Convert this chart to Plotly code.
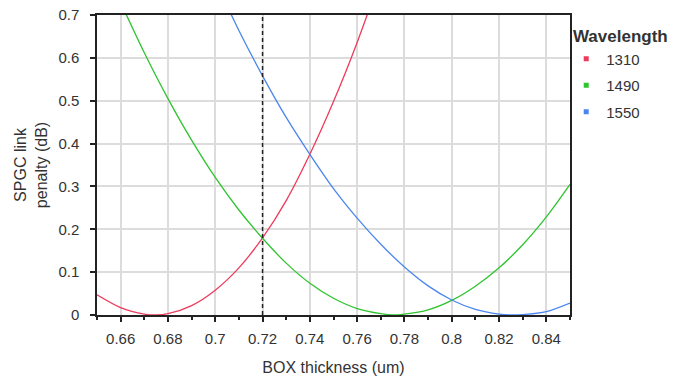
import plotly.graph_objects as go

# ---- data ----
series_names = ["1310", "1490", "1550"]
series_colors = ["#EE3A5C", "#2EC42E", "#4A86EE"]

x_1310 = [0.65, 0.66, 0.67, 0.675, 0.68, 0.69, 0.70, 0.71, 0.72, 0.73, 0.74, 0.75, 0.76, 0.77]
y_1310 = [0.047, 0.017, 0.002, 0.0, 0.003, 0.022, 0.058, 0.110, 0.180, 0.267, 0.375, 0.498, 0.636, 0.790]

x_1490 = [0.66, 0.67, 0.68, 0.69, 0.70, 0.71, 0.72, 0.73, 0.74, 0.75, 0.76, 0.77, 0.775,
          0.78, 0.79, 0.80, 0.81, 0.82, 0.83, 0.84, 0.85]
y_1490 = [0.729, 0.612, 0.505, 0.408, 0.321, 0.245, 0.179, 0.121, 0.074, 0.039, 0.015, 0.003, 0.0,
          0.002, 0.012, 0.034, 0.067, 0.110, 0.164, 0.229, 0.305]

x_1550 = [0.70, 0.71, 0.72, 0.73, 0.74, 0.75, 0.76, 0.77, 0.78, 0.79, 0.80, 0.81, 0.82,
          0.825, 0.83, 0.84, 0.85]
y_1550 = [0.780, 0.664, 0.558, 0.461, 0.375, 0.295, 0.226, 0.165, 0.112, 0.068, 0.035, 0.013, 0.002,
          0.0, 0.001, 0.008, 0.028]

marker_x = 0.72  # dashed reference line (BOX thickness)

x_range = [0.65, 0.85]
y_range = [0, 0.7]
x_tick_step = 0.02
y_tick_step = 0.1

xs = [x_1310, x_1490, x_1550]
ys = [y_1310, y_1490, y_1550]

fig = go.Figure()
for name, color, xv, yv in zip(series_names, series_colors, xs, ys):
    fig.add_trace(go.Scatter(
        x=xv, y=yv, mode="lines", name=name,
        line=dict(color=color, width=1.3, shape="spline", smoothing=0.8),
        showlegend=False,
    ))
for name, color in zip(series_names, series_colors):
    fig.add_trace(go.Scatter(
        x=[None], y=[None], mode="markers", name=name,
        marker=dict(symbol="square", size=5, color=color),
        legendgroup=name, showlegend=True,
    ))

fig.add_vline(x=marker_x, line=dict(color="#222222", width=1.5, dash="4px,3px"))

font_family = "Liberation Sans, Arial, sans-serif"
text_color = "#333333"

fig.update_layout(
    width=686, height=380,
    margin=dict(l=97, r=116, t=15, b=65, autoexpand=False),
    paper_bgcolor="white", plot_bgcolor="white",
    font=dict(family=font_family, size=15, color=text_color),
    legend=dict(
        title=dict(text="\u00a0<b>Wavelength</b>", font=dict(size=17, color=text_color)),
        x=0.992, xanchor="left", y=0.982, yanchor="top",
        font=dict(size=15, color=text_color),
        tracegroupgap=4,
        bgcolor="rgba(0,0,0,0)",
    ),
    xaxis=dict(
        range=x_range, dtick=x_tick_step, tick0=0.66,
        showgrid=True, gridcolor="#dcdcdc", gridwidth=1.5,
        showline=True, linecolor="#222222", linewidth=1.5, mirror=True,
        ticks="outside", ticklen=5, tickwidth=1.5, tickcolor="#222222",
        minor=dict(dtick=0.01, ticks="outside", ticklen=3, tickcolor="#222222", showgrid=False),
        zeroline=False, automargin=False,
        ticklabelstandoff=4, ticklabeloverflow="allow",
        title=dict(text="BOX thickness (um)", font=dict(size=16), standoff=16),
        tickfont=dict(size=15),
    ),
    yaxis=dict(
        range=y_range, dtick=y_tick_step,
        showgrid=True, gridcolor="#dcdcdc", gridwidth=1.5,
        showline=True, linecolor="#222222", linewidth=1.5, mirror=True,
        ticks="outside", ticklen=5, tickwidth=1.5, tickcolor="#222222",
        zeroline=False, automargin=False,
        ticklabelstandoff=8, ticklabeloverflow="allow",
        title=dict(text="SPGC link<br>penalty (dB)", font=dict(size=16), standoff=7),
        tickfont=dict(size=15),
    ),
)

# remove the browser's default 8px body margin so the figure fills the window exactly
fig.write_html(
    "out.html",
    config={"displayModeBar": False},
    post_script="document.body.style.margin='0px';",
)
